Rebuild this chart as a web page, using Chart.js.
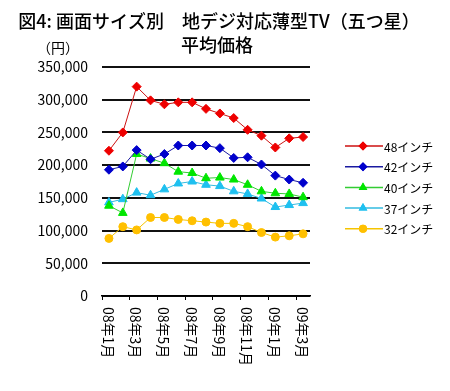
<!DOCTYPE html>
<html lang="ja">
<head>
<meta charset="utf-8">
<title>地デジ対応薄型TV 平均価格</title>
<script src="https://cdn.jsdelivr.net/npm/chart.js@4/dist/chart.umd.min.js"></script>
<style>
  html, body { margin: 0; padding: 0; background: #fff; }
  #wrap { width: 450px; height: 391px; position: relative; }
</style>
</head>
<body>
<div id="wrap"><canvas id="chart" width="450" height="391"></canvas></div>

<script>
// months 08年1月 .. 09年3月
var months = ['08年1月', '08年2月', '08年3月', '08年4月', '08年5月', '08年6月', '08年7月', '08年8月',
              '08年9月', '08年10月', '08年11月', '08年12月', '09年1月', '09年2月', '09年3月'];

var tv48 = [222000, 250000, 320000, 299000, 293000, 296000, 296000, 286000, 279000, 272000, 254000, 245000, 227000, 241000, 243000];
var tv42 = [193000, 198000, 223000, 209000, 217000, 230000, 230000, 230000, 226000, 211000, 212000, 201000, 184000, 178000, 173000];
var tv40 = [138000, 127000, 217000, 210000, 203000, 190000, 188000, 180000, 181000, 178000, 170000, 160000, 157000, 156000, 151000];
var tv37 = [143000, 148000, 158000, 154000, 163000, 172000, 175000, 170000, 168000, 160000, 156000, 149000, 136000, 139000, 142000];
var tv32 = [88000, 106000, 101000, 120000, 120000, 117000, 115000, 113000, 111000, 111000, 106000, 97000, 90000, 92000, 95000];

var seriesNames = ['48インチ', '42インチ', '40インチ', '37インチ', '32インチ'];

var titleLine1 = '図4: 画面サイズ別　地デジ対応薄型TV（五つ星）';
var titleLine2 = '平均価格';
var unitLabel = '（円）';

var jpFont = '"Noto Sans CJK JP", "DejaVu Sans", sans-serif';

function ds(label, data, line, fill, style, r) {
    return {
        label: label,
        data: data,
        borderColor: line,
        backgroundColor: fill,
        pointBackgroundColor: fill,
        pointBorderColor: fill,
        pointStyle: style,
        pointRadius: r,
        pointHoverRadius: r,
        borderWidth: 1,
        tension: 0
    };
}

// title, unit, rotated month labels and the legend
var decorations = {
    id: 'decorations',
    afterDraw: function(chart) {
        var ctx = chart.ctx;
        var x = chart.scales.x;
        ctx.save();
        ctx.fillStyle = '#000';
        ctx.textBaseline = 'middle';

        ctx.textAlign = 'center';
        ctx.font = '500 18px ' + jpFont;
        ctx.fillText(titleLine1, 219, 21);
        ctx.fillText(titleLine2, 217, 45);

        ctx.font = '14px ' + jpFont;
        ctx.fillText(unitLabel, 58, 48);

        // month labels, every other month, read top to bottom
        ctx.font = '14px ' + jpFont;
        ctx.textAlign = 'left';
        for (var i = 0; i < months.length; i += 2) {
            ctx.save();
            ctx.translate(x.getPixelForValue(i) - 1, 307);
            ctx.rotate(Math.PI / 2);
            ctx.fillText(months[i], 0, 0);
            ctx.restore();
        }

        // legend: line with marker in the middle
        ctx.font = '12px ' + jpFont;
        chart.data.datasets.forEach(function(d, k) {
            var y = 146 + k * 20.7;
            ctx.strokeStyle = d.borderColor;
            ctx.lineWidth = 1.5;
            ctx.beginPath();
            ctx.moveTo(345, y);
            ctx.lineTo(383, y);
            ctx.stroke();
            ctx.fillStyle = d.pointBackgroundColor;
            Chart.helpers.drawPoint(ctx, {pointStyle: d.pointStyle, radius: d.pointRadius, rotation: 0, borderWidth: 0}, 363, y);
            ctx.fill();
            ctx.fillStyle = '#000';
            ctx.fillText(d.label, 384, y + 1);
        });
        ctx.restore();
    }
};

var ctx = document.getElementById('chart').getContext('2d');
new Chart(ctx, {
    type: 'line',
    data: {
        labels: months,
        datasets: [
            ds(seriesNames[0], tv48, '#cc1111', '#ee0000', 'rectRot', 4.5),
            ds(seriesNames[1], tv42, '#1a1aa0', '#0000cc', 'rectRot', 4.5),
            ds(seriesNames[2], tv40, '#33cc33', '#00e600', 'triangle', 5),
            ds(seriesNames[3], tv37, '#33bbe0', '#1ec0f0', 'triangle', 5),
            ds(seriesNames[4], tv32, '#f5c400', '#ffc000', 'circle', 4)
        ]
    },
    options: {
        responsive: false,
        animation: false,
        layout: { padding: { left: 0, right: 140, top: 67, bottom: 0 } },
        plugins: {
            legend: { display: false },
            title: { display: false },
            tooltip: { enabled: false }
        },
        scales: {
            x: {
                offset: true,
                grid: {
                    offset: true,
                    drawOnChartArea: false,
                    drawTicks: true,
                    tickLength: 4,
                    color: function(c) { return c.index % 2 === 0 ? '#000' : 'rgba(0,0,0,0)'; },
                    lineWidth: 1
                },
                border: { display: true, color: '#000', width: 1.5 },
                ticks: { display: false, autoSkip: false },
                afterFit: function(s) { s.height = 95; }
            },
            y: {
                min: 0,
                max: 350000,
                grid: { color: '#111', lineWidth: 2, drawTicks: false },
                border: { display: false },
                ticks: {
                    stepSize: 50000,
                    padding: 14,
                    color: '#000',
                    font: { family: jpFont, size: 14 },
                    callback: function(v) { return v.toLocaleString('en-US'); }
                },
                afterFit: function(s) { s.width = 102; }
            }
        }
    },
    plugins: [decorations]
});
</script>
</body>
</html>
